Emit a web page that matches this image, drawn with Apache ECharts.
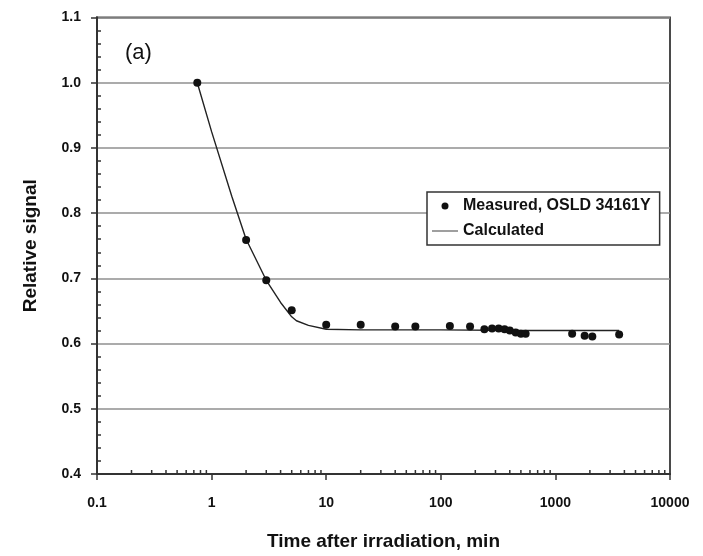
<!DOCTYPE html>
<html><head><meta charset="utf-8">
<script src="https://cdn.jsdelivr.net/npm/echarts@6/dist/echarts.min.js"></script>
<style>html,body{margin:0;padding:0;background:#fff}#c{width:703px;height:556px}</style>
</head><body><div id="c"></div>
<script>
const measuredX = [0.75, 2, 3, 5, 10, 20, 40, 60, 120, 180, 240, 280, 320, 360, 400, 450, 500, 550, 1400, 1800, 2100, 3600];
const measuredY = [1.0, 0.759, 0.697, 0.651, 0.629, 0.629, 0.626, 0.626, 0.627, 0.626, 0.622, 0.623, 0.623, 0.622, 0.620, 0.617, 0.615, 0.615, 0.615, 0.612, 0.611, 0.614];
const calcX = [0.75, 1, 1.5, 2, 3, 4, 5, 5.5, 7, 10, 20, 50, 100, 500, 1000, 3600];
const calcY = [1.0, 0.925, 0.826, 0.76, 0.697, 0.663, 0.641, 0.635, 0.628, 0.622, 0.621, 0.621, 0.621, 0.620, 0.620, 0.620];
const xTickLabels = ['0.1', '1', '10', '100', '1000', '10000'];
const yTickLabels = ['0.4', '0.5', '0.6', '0.7', '0.8', '0.9', '1.0', '1.1'];
const seriesNames = ['Measured, OSLD 34161Y', 'Calculated'];

// minor tick positions of the log axis (2..9 in each decade)
const xMinor = [];
for (let d = -1; d <= 3; d++) for (let k = 2; k <= 9; k++) xMinor.push([k * Math.pow(10, d), 0.4]);

const F = '"Liberation Sans", Arial, sans-serif';
const yBase = { type: 'value', min: 0.4, max: 1.1, interval: 0.1 };
const chart = echarts.init(document.getElementById('c'));
chart.setOption({
  animation: false,
  backgroundColor: '#fff',
  grid: { left: 97, right: 33, top: 17.5, bottom: 81.5, show: true, borderColor: '#4a4a4a', borderWidth: 2, backgroundColor: 'transparent' },
  title: { text: '(a)', left: 120, top: 37, textStyle: { fontFamily: F, fontSize: 22, fontWeight: 'normal', color: '#111' } },
  legend: {
    orient: 'vertical', left: 427, top: 192,
    backgroundColor: '#fff', borderColor: '#333', borderWidth: 1.5, borderRadius: 0,
    padding: [6, 9, 6, 5], itemWidth: 26, itemHeight: 7, itemGap: 9,
    symbolKeepAspect: true,
    textStyle: { fontFamily: F, fontSize: 16, fontWeight: 'bold', color: '#111' },
    data: [
      { name: seriesNames[0], icon: 'circle', itemStyle: { color: '#111', opacity: 1 } },
      { name: seriesNames[1], icon: 'path://M0,0h26v1.6h-26z', itemStyle: { color: '#888', opacity: 1 }, lineStyle: { color: '#888', width: 1.5 } }
    ]
  },
  xAxis: {
    type: 'log', logBase: 10, min: 0.1, max: 10000,
    name: 'Time after irradiation, min', nameLocation: 'middle', nameGap: 58,
    nameTextStyle: { fontFamily: F, fontSize: 19, fontWeight: 'bold', color: '#111' },
    axisLine: { onZero: false, lineStyle: { color: '#333', width: 2 } },
    axisTick: { show: true, length: 6, lineStyle: { color: '#333', width: 1.5 } },
    axisLabel: { margin: 22, fontFamily: F, fontSize: 14, fontWeight: 'bold', color: '#111',
      formatter: function (v) { const i = Math.round(Math.log10(v)) + 1; return xTickLabels[i] !== undefined ? xTickLabels[i] : ''; } },
    splitLine: { show: false }
  },
  yAxis: [
    Object.assign({}, yBase, {
      name: 'Relative signal', nameLocation: 'middle', nameGap: 57,
      nameTextStyle: { fontFamily: F, fontSize: 19, fontWeight: 'bold', color: '#111' },
      axisLine: { show: true, lineStyle: { color: '#333', width: 2 } },
      axisTick: { show: true, length: 6, lineStyle: { color: '#333', width: 1.5 } },
      axisLabel: { margin: 16, fontFamily: F, fontSize: 14, fontWeight: 'bold', color: '#111',
        formatter: function (v) { const i = Math.round((v - 0.4) * 10); return yTickLabels[i] !== undefined ? yTickLabels[i] : ''; } },
      splitLine: { show: true, lineStyle: { color: '#8f8f8f', width: 1.5 } }
    }),
    Object.assign({}, yBase, {
      position: 'left', offset: 0,
      axisLine: { show: true, lineStyle: { color: '#333', width: 2 } },
      axisTick: { show: false, inside: true },
      minorTick: { show: true, splitNumber: 5, length: 4, lineStyle: { color: '#333', width: 1.5 } },
      axisLabel: { show: false },
      splitLine: { show: false }
    })
  ],
  series: [
    {
      name: 'xMinorTicks', type: 'scatter', silent: true, clip: false, z: 1,
      symbol: 'rect', symbolSize: [1.5, 4], symbolOffset: [0, -2],
      itemStyle: { color: '#333', opacity: 1 }, data: xMinor, tooltip: { show: false }
    },
    {
      name: seriesNames[1], type: 'line', showSymbol: false, symbol: 'none', smooth: false, z: 3,
      lineStyle: { color: '#222', width: 1.4 },
      data: calcX.map((x, i) => [x, calcY[i]])
    },
    {
      name: seriesNames[0], type: 'scatter', symbol: 'circle', symbolSize: 8, z: 4,
      itemStyle: { color: '#111', opacity: 1 },
      data: measuredX.map((x, i) => [x, measuredY[i]])
    }
  ]
});
</script></body></html>
